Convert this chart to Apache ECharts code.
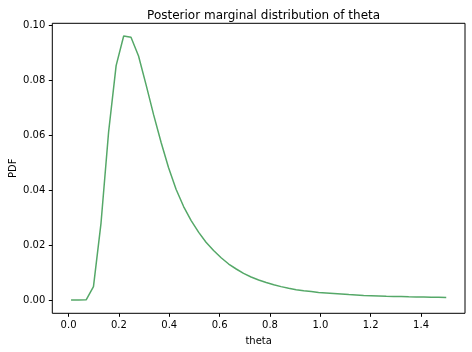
<!DOCTYPE html>
<html>
<head>
<meta charset="utf-8">
<script src="https://cdn.jsdelivr.net/npm/echarts@6/dist/echarts.min.js"></script>
<style>
html,body{margin:0;padding:0;background:#fff;}
#chart{width:472px;height:352px;}
</style>
</head>
<body>
<div id="chart"></div>
<script>
var theta = [0.010, 0.040, 0.070, 0.099, 0.129, 0.159, 0.189, 0.219, 0.248, 0.278,
             0.308, 0.338, 0.368, 0.397, 0.427, 0.457, 0.487, 0.517, 0.546, 0.576,
             0.606, 0.636, 0.666, 0.695, 0.725, 0.755, 0.785, 0.815, 0.844, 0.874,
             0.904, 0.934, 0.964, 0.993, 1.023, 1.053, 1.083, 1.113, 1.142, 1.172,
             1.202, 1.232, 1.262, 1.291, 1.321, 1.351, 1.381, 1.411, 1.440, 1.470, 1.500];
var pdf = [0, 0, 0.0001, 0.0049, 0.0280, 0.0610, 0.0852, 0.0960, 0.0955, 0.0887,
           0.0782, 0.0673, 0.0572, 0.0482, 0.0403, 0.0340, 0.0289, 0.0246, 0.0210, 0.0180,
           0.0154, 0.0131, 0.0113, 0.0097, 0.0084, 0.0073, 0.0064, 0.0056, 0.0049, 0.0043,
           0.0038, 0.0034, 0.0031, 0.0028, 0.0026, 0.0024, 0.0022, 0.0020, 0.00185, 0.0017,
           0.0016, 0.0015, 0.0014, 0.00135, 0.00128, 0.0012, 0.00115, 0.0011, 0.00105, 0.0010, 0.00095];
var xTicks = [0.0, 0.2, 0.4, 0.6, 0.8, 1.0, 1.2, 1.4];
var yTicks = [0.00, 0.02, 0.04, 0.06, 0.08, 0.10];
var titleText = 'Posterior marginal distribution of theta';
var xName = 'theta';
var yName = 'PDF';

var data = theta.map(function (t, i) { return [t, pdf[i]]; });
var font = 'DejaVu Sans';
var chart = echarts.init(document.getElementById('chart'), null, {renderer: 'canvas'});
chart.setOption({
  animation: false,
  backgroundColor: '#fff',
  title: {
    text: titleText,
    left: 258.6,
    top: 5,
    textAlign: 'center',
    textStyle: {fontFamily: font, fontSize: 12, fontWeight: 'normal', color: '#000'}
  },
  grid: {
    left: 52.3, right: 7, top: 23.3, bottom: 38.7,
    outerBoundsMode: 'none',
    containLabel: false,
    show: true, borderColor: '#000', borderWidth: 1, backgroundColor: '#fff'
  },
  xAxis: {
    type: 'value',
    min: -0.0645, max: 1.5745,
    name: xName,
    nameLocation: 'middle',
    nameGap: 23,
    nameMoveOverlap: false,
    nameTextStyle: {fontFamily: font, fontSize: 10, color: '#000'},
    axisLine: {show: false, onZero: false},
    splitLine: {show: false},
    axisTick: {show: true, inside: false, length: 3.5, customValues: xTicks, lineStyle: {color: '#000', width: 1}},
    axisLabel: {
      customValues: xTicks, margin: 7,
      fontFamily: font, fontSize: 10, color: '#000',
      formatter: function (v) { return v.toFixed(1); }
    }
  },
  yAxis: {
    type: 'value',
    min: -0.0048, max: 0.1006,
    name: yName,
    nameLocation: 'middle',
    nameGap: 34,
    nameRotate: 90,
    nameMoveOverlap: false,
    nameTextStyle: {fontFamily: font, fontSize: 10, color: '#000'},
    axisLine: {show: false, onZero: false},
    splitLine: {show: false},
    axisTick: {show: true, inside: false, length: 3.5, customValues: yTicks, lineStyle: {color: '#000', width: 1}},
    axisLabel: {
      customValues: yTicks, margin: 7,
      fontFamily: font, fontSize: 10, color: '#000',
      formatter: function (v) { return v.toFixed(2); }
    }
  },
  series: [{
    type: 'line',
    data: data,
    showSymbol: false,
    lineStyle: {color: '#55a868', width: 1.5},
    itemStyle: {color: '#55a868'}
  }]
});
</script>
</body>
</html>
